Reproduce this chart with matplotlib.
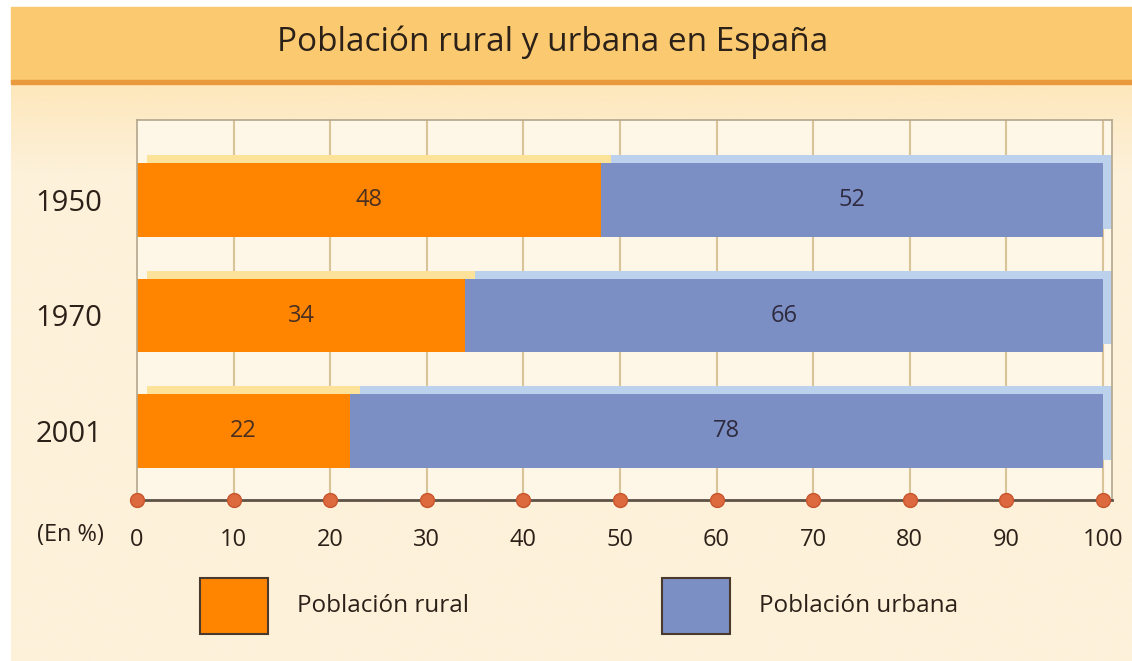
import numpy as np
import matplotlib.pyplot as plt
from matplotlib.patches import Rectangle
from matplotlib.transforms import ScaledTranslation

years = ["1950", "1970", "2001"]
rural = [48, 34, 22]
urbana = [52, 66, 78]
xticks = [0, 10, 20, 30, 40, 50, 60, 70, 80, 90, 100]
title = "Población rural y urbana en España"
legend_labels = ["Población rural", "Población urbana"]

ORANGE = "#ff8500"
BLUE = "#7c8fc4"
ORANGE_HI = "#fde39a"
BLUE_HI = "#bcd2ec"
TEXT = "#2b2118"
FONT = "Open Sans"

W, H = 1132, 661
fig = plt.figure(figsize=(W / 100, H / 100), dpi=100)
fig.patch.set_facecolor("white")


def fx(px):
    return px / W


def fy(py):
    return 1 - py / H


# panel background with soft gradient below the header
bg = fig.add_axes([fx(11), 0, 1 - fx(11), fy(7)])
bg.set_axis_off()
grad = np.linspace(0, 1, 300)[:, None]
c0 = np.array([253, 222, 160]) / 255
c1 = np.array([253, 241, 218]) / 255
t = np.clip(grad / 0.25, 0, 1)
img = c0[None, None, :] * (1 - t[..., None]) + c1[None, None, :] * t[..., None]
bg.imshow(np.repeat(img, 2, axis=1), aspect="auto", extent=[0, 1, 0, 1],
          origin="upper")
# header band
fig.add_artist(Rectangle((fx(11), fy(82)), 1 - fx(11), fy(7) - fy(82),
                         transform=fig.transFigure, color="#fbc96f", zorder=1))
fig.add_artist(Rectangle((fx(11), fy(84)), 1 - fx(11), fy(80) - fy(84),
                         transform=fig.transFigure, color="#e99a3c", zorder=1))
fig.text(fx(553), fy(42), title, ha="center", va="center", fontsize=24,
         family=FONT, color=TEXT)

# main axes: 0 at x=137px, 100 at x=1103px, box right at 1112px
ax = fig.add_axes([fx(137), fy(500), fx(1112) - fx(137), fy(120) - fy(500)])
ax.set_facecolor("#fef6e6")
ax.set_xlim(0, 100 * (1112 - 137) / (1103 - 137))
y = np.arange(len(years))
ax.set_ylim(2 + 69 / 115.5, -80 / 115.5)

for x in xticks[1:]:
    ax.axvline(x, color="#d9c398", lw=1.5, zorder=0)

h = 0.64
shift = ax.transData + ScaledTranslation(10 / 100, 8 / 100, fig.dpi_scale_trans)
ax.barh(y, rural, height=h, color=ORANGE_HI, transform=shift, zorder=1)
ax.barh(y, urbana, left=rural, height=h, color=BLUE_HI, transform=shift, zorder=1)
ax.barh(y, rural, height=h, color=ORANGE, zorder=2)
ax.barh(y, urbana, left=rural, height=h, color=BLUE, zorder=2)

for yi, r, u in zip(y, rural, urbana):
    ax.text(r / 2, yi, str(r), ha="center", va="center", fontsize=17,
            family=FONT, color="#4a3020", zorder=3)
    ax.text(r + u / 2, yi, str(u), ha="center", va="center", fontsize=17,
            family=FONT, color="#2e2a40", zorder=3)

for side in ["left", "right", "top"]:
    ax.spines[side].set_color("#b3a68c")
    ax.spines[side].set_linewidth(1.2)
ax.spines["bottom"].set_color("#5e5246")
ax.spines["bottom"].set_linewidth(2)

ax.set_xticks(xticks)
ax.set_xticklabels([str(v) for v in xticks], family=FONT, fontsize=17, color=TEXT)
ax.tick_params(axis="x", length=0, pad=20)
ax.set_yticks(y)
ax.set_yticklabels(years, family=FONT, fontsize=21, color=TEXT)
ax.tick_params(axis="y", length=0, pad=25)
ax.plot(xticks, [ax.get_ylim()[0]] * len(xticks), "o", ms=10, color="#dc6a3e",
        mec="#c8552e", mew=1, clip_on=False, zorder=5)

fig.text(fx(70), fy(535), "(En %)", ha="center", va="center", fontsize=17,
         family=FONT, color=TEXT)

# legend
for (x0, col, lab) in [(200, ORANGE, legend_labels[0]), (662, BLUE, legend_labels[1])]:
    fig.add_artist(Rectangle((fx(x0), fy(634)), fx(68), fy(578) - fy(634),
                             transform=fig.transFigure, facecolor=col,
                             edgecolor="#4a3a2e", lw=1.5, zorder=3))
    fig.text(fx(x0 + 97), fy(606), lab, ha="left", va="center", fontsize=17.5,
             family=FONT, color=TEXT)

fig.savefig("out.png", dpi=100)
